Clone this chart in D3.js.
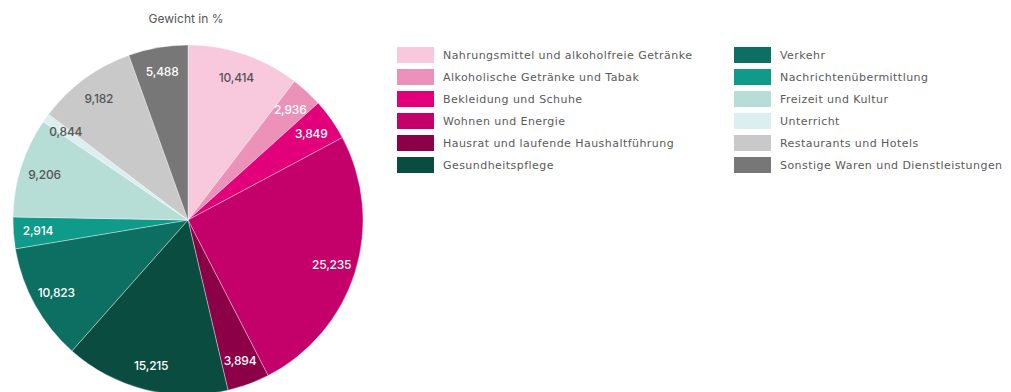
<!DOCTYPE html>
<html>
<head>
<meta charset="utf-8">
<script src="https://cdn.jsdelivr.net/npm/d3@7"></script>
<style>
  html, body { margin: 0; padding: 0; background: #fff; }
  svg { display: block; }
</style>
</head>
<body>
<svg id="chart" width="1011" height="392"></svg>
<script>
const categories = [
  "Nahrungsmittel und alkoholfreie Getränke",
  "Alkoholische Getränke und Tabak",
  "Bekleidung und Schuhe",
  "Wohnen und Energie",
  "Hausrat und laufende Haushaltführung",
  "Gesundheitspflege",
  "Verkehr",
  "Nachrichtenübermittlung",
  "Freizeit und Kultur",
  "Unterricht",
  "Restaurants und Hotels",
  "Sonstige Waren und Dienstleistungen"
];
const values = [10.414, 2.936, 3.849, 25.235, 3.894, 15.215, 10.823, 2.914, 9.206, 0.844, 9.182, 5.488];
const colors = ["#f8c8dc", "#ec92b8", "#e2007a", "#c4006a", "#8c0048", "#0a4d40",
                "#0c6f61", "#0f9a89", "#b7ddd7", "#dbeef0", "#c9c9c9", "#777777"];
const labelColors = ["#555555", "#ffffff", "#ffffff", "#ffffff", "#ffffff", "#ffffff",
                     "#ffffff", "#ffffff", "#555555", "#555555", "#555555", "#ffffff"];
const title = "Gewicht in %";

const svg = d3.select("#chart");
const cx = 188, cy = 220, R = 175;
const fmt = v => d3.format(".3f")(v).replace(".", ",");

svg.append("text")
  .attr("x", cx - 2).attr("y", 23)
  .attr("text-anchor", "middle")
  .attr("font-family", "Inter, 'Noto Sans', sans-serif")
  .attr("font-size", 12)
  .attr("fill", "#555")
  .text(title);

const pie = d3.pie().sort(null).value(d => d)(values);
const arc = d3.arc().innerRadius(0).outerRadius(R);
const labelArc = d3.arc().innerRadius(R * 0.86).outerRadius(R * 0.86);

const g = svg.append("g").attr("transform", `translate(${cx},${cy})`);
g.selectAll("path").data(pie).join("path")
  .attr("d", arc)
  .attr("fill", (d, i) => colors[i])
  .attr("stroke", "#ffffff")
  .attr("stroke-width", 0.6)
  .attr("stroke-opacity", 0.6);

g.selectAll("text").data(pie).join("text")
  .attr("transform", d => `translate(${labelArc.centroid(d)})`)
  .attr("text-anchor", "middle")
  .attr("dy", "0.35em")
  .attr("font-family", "Inter, 'Noto Sans', sans-serif")
  .attr("font-size", 12)
  .attr("font-weight", 500)
  .attr("letter-spacing", "-0.2")
  .attr("fill", (d, i) => labelColors[i])
  .text(d => fmt(d.data));

// legend
const colX = [397, 734], rowY0 = 47, rowH = 22, swW = 37, swH = 16;
const leg = svg.append("g");
categories.forEach((c, i) => {
  const col = Math.floor(i / 6), row = i % 6;
  const x = colX[col], y = rowY0 + row * rowH;
  leg.append("rect").attr("x", x).attr("y", y).attr("width", swW).attr("height", swH)
    .attr("fill", colors[i]);
  leg.append("text").attr("x", x + swW + 9).attr("y", y + swH / 2)
    .attr("dy", "0.35em")
    .attr("font-family", "'DejaVu Sans', sans-serif")
    .attr("font-size", 11)
    .attr("letter-spacing", "0.45")
    .attr("fill", "#5a5a5a")
    .text(c);
});
</script>
</body>
</html>
